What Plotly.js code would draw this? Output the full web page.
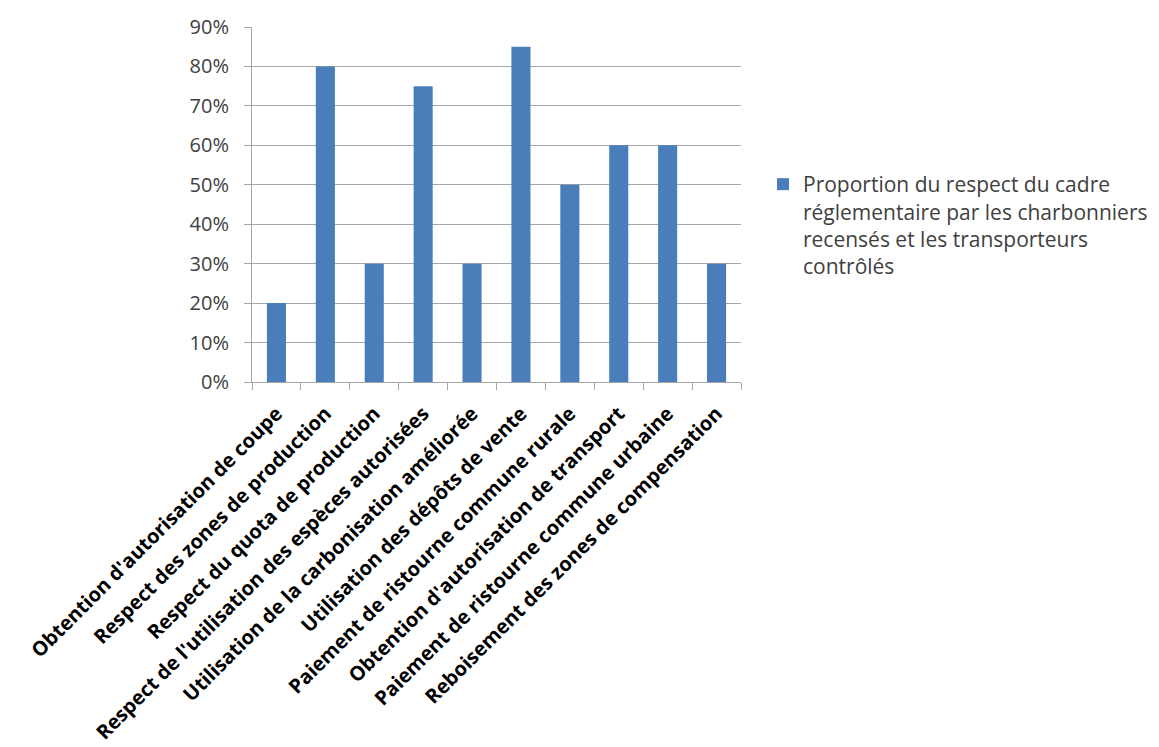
<!DOCTYPE html>
<html>
<head>
<meta charset="utf-8">
<script src="https://cdn.plot.ly/plotly-3.0.1.min.js"></script>
<style>html,body{margin:0;padding:0;background:#fff;}#chart{width:1159px;height:747px;}</style>
</head>
<body>
<div id="chart"></div>
<script>
const categories = [
  "Obtention d'autorisation de coupe",
  "Respect des zones de production",
  "Respect du quota de production",
  "Respect de l'utilisation des espèces autorisées",
  "Utilisation de la carbonisation améliorée",
  "Utilisation des dépôts de vente",
  "Paiement de ristourne commune rurale",
  "Obtention d'autorisation de transport",
  "Paiement de ristourne commune urbaine",
  "Reboisement des zones de compensation"
];
const values = [0.20, 0.80, 0.30, 0.75, 0.30, 0.85, 0.50, 0.60, 0.60, 0.30];
const seriesName = "Proportion du respect du cadre<br>réglementaire par les charbonniers<br>recensés et les transporteurs<br>contrôlés";
const yTickVals = [0, 0.1, 0.2, 0.3, 0.4, 0.5, 0.6, 0.7, 0.8, 0.9];
const yTickText = ["0%", "10%", "20%", "30%", "40%", "50%", "60%", "70%", "80%", "90%"];

const trace = {
  type: 'bar',
  x: categories,
  y: values,
  name: seriesName,
  marker: {color: '#4a7ebb'},
  showlegend: true,
  hoverinfo: 'x+y'
};

const FONT = '"Open Sans", Lato, sans-serif';

const layout = {
  width: 1159,
  height: 747,
  margin: {l: 252, r: 418, t: 27, b: 365},
  paper_bgcolor: '#ffffff',
  plot_bgcolor: '#ffffff',
  bargap: 0.61,
  showlegend: true,
  font: {family: FONT, color: '#404040'},
  xaxis: {
    type: 'category',
    tickangle: -45,
    tickson: 'boundaries',
    ticks: 'outside',
    ticklen: 7,
    tickcolor: '#a6a6a6',
    showgrid: false,
    showline: true,
    linecolor: '#a6a6a6',
    ticklabelstandoff: 11,
    tickfont: {family: FONT, size: 20, color: '#000000', weight: 'bold'},
    automargin: false
  },
  yaxis: {
    range: [0, 0.9],
    tickvals: yTickVals,
    ticktext: yTickText,
    showgrid: true,
    gridcolor: '#a6a6a6',
    gridwidth: 1,
    showline: true,
    linecolor: '#a6a6a6',
    ticks: 'outside',
    ticklen: 7,
    tickcolor: '#a6a6a6',
    ticklabelstandoff: 11,
    zeroline: false,
    tickfont: {family: FONT, size: 20, color: '#404040'},
    automargin: false
  },
  legend: {
    xref: 'container',
    yref: 'container',
    x: 763 / 1159,
    y: 1 - 164 / 747,
    xanchor: 'left',
    yanchor: 'top',
    valign: 'top',
    font: {family: FONT, size: 21, color: '#404040'},
    bgcolor: 'rgba(0,0,0,0)'
  }
};

Plotly.newPlot('chart', [trace], layout, {displayModeBar: false, staticPlot: true});
</script>
</body>
</html>
